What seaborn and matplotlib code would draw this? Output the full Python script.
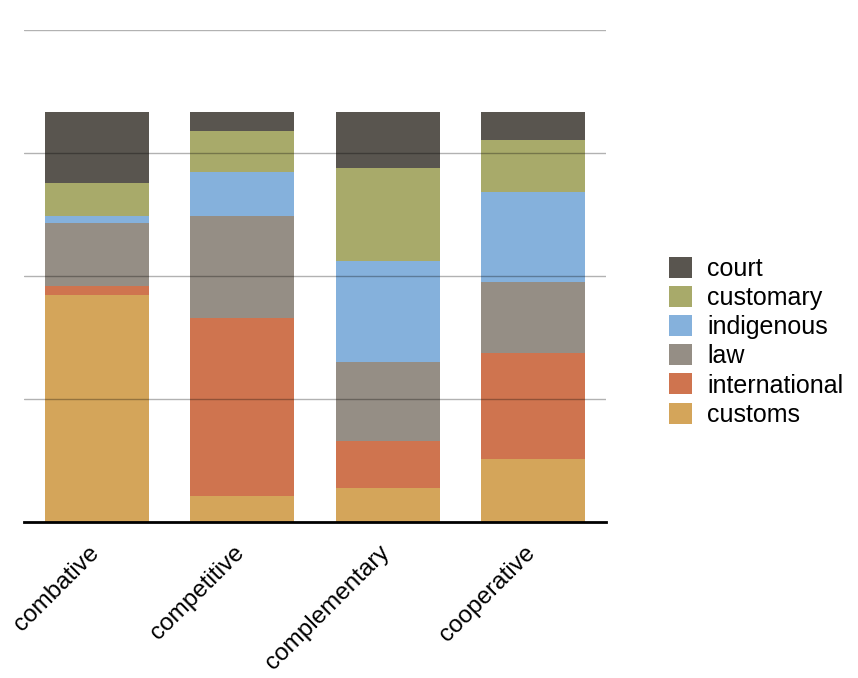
import matplotlib
matplotlib.use('Agg')
import matplotlib.pyplot as plt
import matplotlib.transforms as mtransforms
import numpy as np
import pandas as pd
import seaborn as sns

# categories and series (share of each bar)
categories = ['combative', 'competitive', 'complementary', 'cooperative']
series = ['customs', 'international', 'law', 'indigenous', 'customary', 'court']
customs = [0.554, 0.063, 0.084, 0.154]
international = [0.022, 0.435, 0.114, 0.258]
law = [0.153, 0.248, 0.192, 0.174]
indigenous = [0.017, 0.108, 0.247, 0.218]
customary = [0.081, 0.100, 0.226, 0.128]
court = [0.173, 0.046, 0.137, 0.068]

colors = {
    'customs': '#d4a55a',
    'international': '#cf744f',
    'law': '#958e85',
    'indigenous': '#85b1dc',
    'customary': '#a8aa6a',
    'court': '#59554f',
}

sns.set_theme(style='white')
plt.rcParams['font.family'] = ['Liberation Sans', 'DejaVu Sans']
plt.rcParams['text.color'] = 'black'

df = pd.DataFrame({'customs': customs, 'international': international, 'law': law,
                   'indigenous': indigenous, 'customary': customary, 'court': court},
                  index=categories)
cum = df[series].cumsum(axis=1)

fig = plt.figure(figsize=(8.58, 6.78), dpi=100)
ax = fig.add_axes([0.028, 0.230, 0.678, 0.726])

# draw cumulative totals from the top layer down so each layer covers the next
for name in reversed(series):
    sns.barplot(x=categories, y=cum[name].values, color=colors[name], width=0.716,
                saturation=1, linewidth=0, ax=ax, label=name)

ax.set_xlim(-0.5, 3.5)
ax.set_ylim(0, 1.2)
ax.set_yticks([0, 0.3, 0.6, 0.9, 1.2])
ax.set_yticklabels([])
ax.tick_params(axis='both', length=0)
ax.yaxis.grid(True, color='black', alpha=0.3, linewidth=1)
ax.set_axisbelow(False)
for s in ['top', 'right', 'left']:
    ax.spines[s].set_visible(False)
ax.spines['bottom'].set_color('black')
ax.spines['bottom'].set_linewidth(2)
ax.spines['bottom'].set_zorder(5)

ax.set_xticks(range(len(categories)))
ax.set_xticklabels(categories, rotation=45, ha='right', rotation_mode='anchor',
                   fontsize=17.5, color='black')
ax.tick_params(axis='x', pad=14)
shift = mtransforms.ScaledTranslation(-0.09, 0.0, fig.dpi_scale_trans)
for lab in ax.get_xticklabels():
    lab.set_transform(lab.get_transform() + shift)

handles, labels = ax.get_legend_handles_labels()
leg = ax.legend(handles, labels, loc='center left', bbox_to_anchor=(0.78, 0.496),
                bbox_transform=fig.transFigure, frameon=False, fontsize=18,
                handlelength=0.92, handleheight=0.92, handletextpad=0.6,
                labelspacing=0.2, borderpad=0, borderaxespad=0)
for t in leg.get_texts():
    t.set_color('black')

fig.savefig('out.png', dpi=100)
